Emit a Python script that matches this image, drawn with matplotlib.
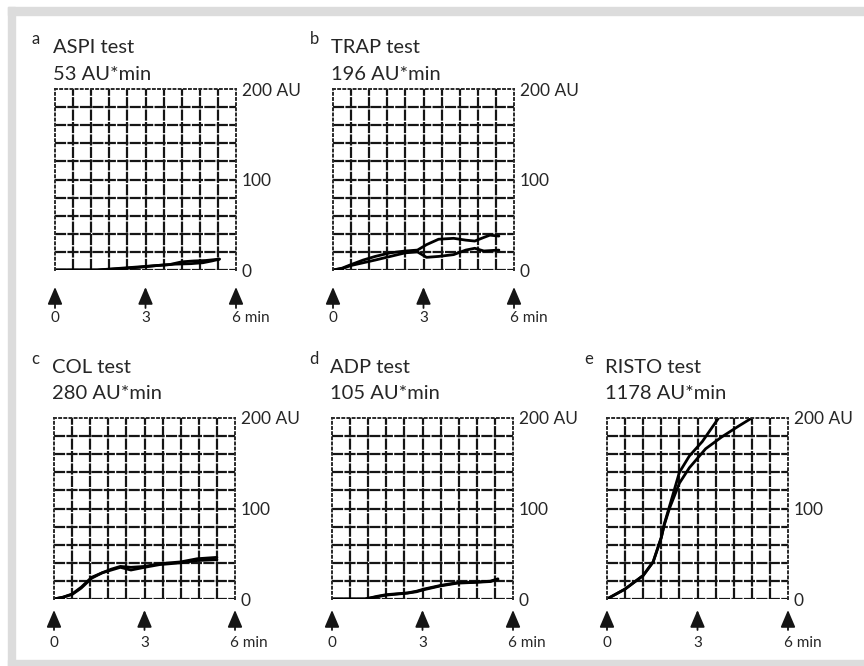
import numpy as np
import matplotlib.pyplot as plt
from matplotlib.patches import Rectangle
from matplotlib.transforms import blended_transform_factory

plt.rcParams['font.family'] = ['Lato', 'DejaVu Sans']

# panel texts
letters = ["a", "b", "c", "d", "e"]
tests = ["ASPI test", "TRAP test", "COL test", "ADP test", "RISTO test"]
areas = ["53 AU*min", "196 AU*min", "280 AU*min", "105 AU*min", "1178 AU*min"]

y_ticks = [0, 100, 200]
y_labels = ["0", "100", "200 AU"]
x_marks = [0, 3, 6]
x_labels = ["0", "3", "6 min"]

# aggregation curves, two runs per test (time in min, AU)
aspi_t1 = [0, 1.4, 2.0, 2.6, 3.2, 3.8, 4.2, 4.6, 5.0, 5.45]
aspi_y1 = [0, 0, 1.5, 3, 4.5, 6, 9, 10, 10.5, 12]
aspi_t2 = [0, 1.4, 2.2, 2.8, 3.4, 4.0, 4.5, 4.9, 5.2, 5.45]
aspi_y2 = [0, 0, 1.5, 3, 5, 6.5, 7, 8, 10, 12]

trap_t1 = [0, 0.3, 0.6, 1.0, 1.4, 1.9, 2.4, 2.8, 3.1, 3.5, 4.0, 4.4, 4.7, 5.0, 5.2, 5.5]
trap_y1 = [0, 2, 6, 11, 15, 19, 21, 22, 28, 34, 35, 33, 32, 36, 38.5, 37.5]
trap_t2 = [0, 0.3, 0.6, 1.0, 1.4, 1.9, 2.4, 2.8, 3.1, 3.5, 4.0, 4.4, 4.7, 5.0, 5.5]
trap_y2 = [0, 1.5, 5, 8, 11, 15, 19, 20, 14, 15, 17, 22, 24, 21, 22]

col_t = [0, 0.3, 0.6, 0.9, 1.25, 1.6, 1.9, 2.2, 2.55, 3.0, 3.5, 4.2, 4.75, 5.4]
col_y1 = [0, 2, 5.5, 13, 24, 29, 33, 36, 35, 36, 39, 41, 44.5, 46]
col_y2 = [0, 2, 5, 12, 23, 29, 32, 35, 32, 35, 38, 40, 42.5, 43.5]

adp_t = [0, 1.1, 1.5, 1.8, 2.5, 2.8, 3.05, 3.6, 4.15, 4.7, 5.25, 5.5]
adp_y1 = [0, 0, 3, 4.8, 6.7, 8.6, 11, 15, 18, 18.6, 19.7, 22.3]
adp_y2 = [0, 0, 2.5, 4.3, 6.5, 8, 10.3, 14.5, 17.5, 18.3, 19.3, 21.5]

risto_t1 = [0, 0.6, 1.2, 1.53, 1.8, 1.9, 2.13, 2.4, 2.73, 3.16, 3.7]
risto_y1 = [0, 11, 26, 41, 68, 83, 109, 140, 158, 174, 200]
risto_t2 = [0, 0.6, 1.2, 1.53, 1.8, 1.9, 2.07, 2.4, 2.73, 3.27, 3.8, 4.36, 4.8]
risto_y2 = [0, 11, 26, 41, 68, 82, 100, 128, 145, 166, 179, 191, 200]

curves = [
    [(aspi_t1, aspi_y1), (aspi_t2, aspi_y2)],
    [(trap_t1, trap_y1), (trap_t2, trap_y2)],
    [(col_t, col_y1), (col_t, col_y2)],
    [(adp_t, adp_y1), (adp_t, adp_y2)],
    [(risto_t1, risto_y1), (risto_t2, risto_y2)],
]

W, H = 864, 666
fig = plt.figure(figsize=(W / 100, H / 100), dpi=100)


def fx(px):
    return px / W


def fy(px):
    return 1 - px / H


# grey frame
grey = '#dcdcdc'
fig.patches.extend([
    Rectangle((fx(8), 0), fx(7), fy(7), transform=fig.transFigure, color=grey, zorder=0),
    Rectangle((fx(8), fy(15)), 1 - fx(8), fy(7) - fy(15), transform=fig.transFigure, color=grey, zorder=0),
    Rectangle((fx(8), 0), 1 - fx(8), 1 - fy(6), transform=fig.transFigure, color=grey, zorder=0),
])

# panel boxes in pixels: left, top ; plus title baselines and arrow rows
size = 181
boxes = [(55, 89), (333, 89), (54, 418), (332, 418), (607, 418)]
title_base = [(53, 80), (53, 80), (373, 399), (373, 399), (373, 399)]
arrow_rows = [(287, 308, 318), (287, 308, 318), (610, 630, 643), (610, 630, 643), (610, 630, 643)]

ink = '#151515'
txt = '#262626'
grid_ls = (0, (5, 0.6))

for i in range(5):
    left, top = boxes[i]
    ax = fig.add_axes([fx(left), fy(top + size), fx(size), size / H])
    ax.set_xlim(0, 6)
    ax.set_ylim(0, 200)

    # chart-paper grid: every 0.6 min and every 20 AU
    ax.set_xticks(np.arange(0, 6.01, 0.6))
    ax.set_xticklabels([])
    grid_y = np.arange(0, 201, 20)
    ax.set_yticks(grid_y)
    ax.set_yticklabels([y_labels[y_ticks.index(v)] if v in y_ticks else "" for v in grid_y])
    ax.grid(True, color=ink, lw=1.6, ls=grid_ls)
    for g in [ax.get_xgridlines()[0], ax.get_xgridlines()[-1], ax.get_ygridlines()[-1]]:
        g.set_visible(False)
    for s in ['top', 'left', 'right']:
        ax.spines[s].set_linestyle(':')
        ax.spines[s].set_linewidth(1.4)
        ax.spines[s].set_color('#2a2a2a')
    ax.spines['bottom'].set_visible(False)
    ax.tick_params(which='both', length=0)

    ax.yaxis.tick_right()
    ax.tick_params(axis='y', pad=4, labelsize=12.5, labelcolor=txt)

    for t, y in curves[i]:
        ax.plot(t, y, color='black', lw=2.0, solid_capstyle='round')

    # arrows and time labels
    tip, base, lab = arrow_rows[i]
    tr = blended_transform_factory(ax.transData, fig.transFigure)
    for t, label in zip(x_marks, x_labels):
        ax.annotate("", xy=(t, fy(tip)), xytext=(t, fy(base)), xycoords=tr, textcoords=tr,
                    arrowprops=dict(arrowstyle="-|>,head_length=0.75,head_width=0.32",
                                    color=ink, lw=1.3, mutation_scale=14,
                                    shrinkA=0, shrinkB=0))
        if label.isdigit():
            ax.annotate(label, xy=(t, fy(lab)), xycoords=tr, ha='center', va='center',
                        fontsize=11, color=txt)
        else:
            ax.annotate(label, xy=(t, fy(lab)), xycoords=tr, xytext=(-4.5, 0),
                        textcoords='offset pixels', ha='left', va='center',
                        fontsize=11, color=txt)

    # titles
    b1, b2 = title_base[i]
    fig.text(fx(left - 23), fy(b1 - 9), letters[i], fontsize=12, color=txt, va='baseline')
    fig.text(fx(left - 2), fy(b1), tests[i], fontsize=14.5, color=txt, va='baseline')
    fig.text(fx(left - 2), fy(b2), areas[i], fontsize=14.5, color=txt, va='baseline')

fig.savefig('out.png', dpi=100)
